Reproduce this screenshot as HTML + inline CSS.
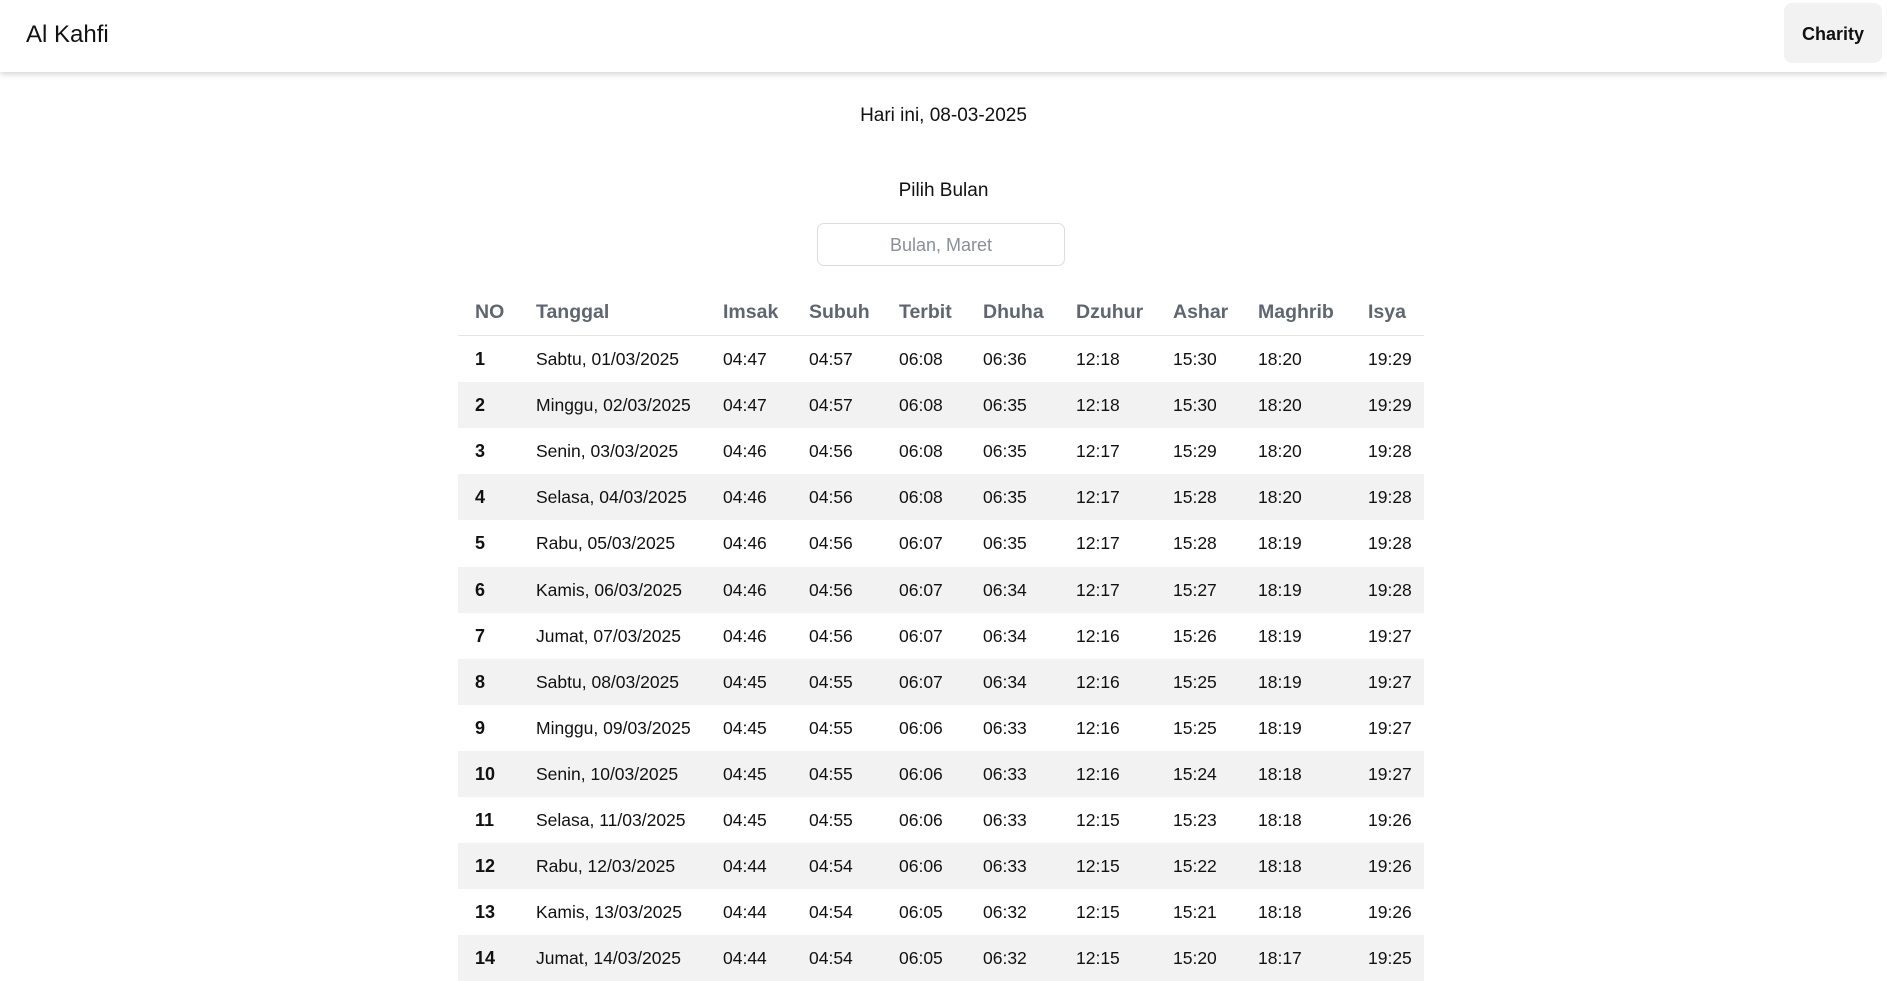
<!DOCTYPE html>
<html><head><meta charset="utf-8"><style>
body{margin:0;width:1887px;height:972px;overflow:hidden;background:#fff;font-family:"Liberation Sans",sans-serif;color:#111;position:relative}
.hdr{position:absolute;left:0;top:0;width:1887px;height:72px;background:#fff;box-shadow:0 2px 6px rgba(0,0,0,.18)}
.brand{position:absolute;left:26px;top:21px;font-size:24px;color:#111}
.btn{position:absolute;left:1784px;top:3px;width:98px;height:60px;background:#f2f2f2;border-radius:8px;font-size:18px;font-weight:bold;text-align:center;line-height:62px;color:#111}
.c{position:absolute;left:0;width:1887px;text-align:center;font-size:19px}
.inp{position:absolute;left:817px;top:223px;width:246px;height:41px;border:1px solid #ddd;border-radius:7px;text-align:center;line-height:43px;font-size:18px;color:#8a8f99}
.row{position:absolute;left:458px;width:966px;height:46px}
.cell{position:absolute;top:0;line-height:46px;font-size:17.5px;white-space:nowrap}
.th{font-weight:bold;color:#5f6670;font-size:19.5px}
</style></head><body>
<div class="hdr">
<div class="brand">Al Kahfi</div>
<div class="btn">Charity</div>
</div>
<div class="c" style="top:105px">Hari ini, 08-03-2025</div>
<div class="c" style="top:180px">Pilih Bulan</div>
<div class="inp">Bulan, Maret</div>
<div id="tbl"></div>
<script>
const cols=[17,78,265,351,441,525,618,715,800,910];
const heads=["NO","Tanggal","Imsak","Subuh","Terbit","Dhuha","Dzuhur","Ashar","Maghrib","Isya"];
const dates=["Sabtu, 01/03/2025","Minggu, 02/03/2025","Senin, 03/03/2025","Selasa, 04/03/2025","Rabu, 05/03/2025","Kamis, 06/03/2025","Jumat, 07/03/2025","Sabtu, 08/03/2025","Minggu, 09/03/2025","Senin, 10/03/2025","Selasa, 11/03/2025","Rabu, 12/03/2025","Kamis, 13/03/2025","Jumat, 14/03/2025"];
const imsak=["04:47","04:47","04:46","04:46","04:46","04:46","04:46","04:45","04:45","04:45","04:45","04:44","04:44","04:44"];
const subuh=["04:57","04:57","04:56","04:56","04:56","04:56","04:56","04:55","04:55","04:55","04:55","04:54","04:54","04:54"];
const terbit=["06:08","06:08","06:08","06:08","06:07","06:07","06:07","06:07","06:06","06:06","06:06","06:06","06:05","06:05"];
const dhuha=["06:36","06:35","06:35","06:35","06:35","06:34","06:34","06:34","06:33","06:33","06:33","06:33","06:32","06:32"];
const dzuhur=["12:18","12:18","12:17","12:17","12:17","12:17","12:16","12:16","12:16","12:16","12:15","12:15","12:15","12:15"];
const ashar=["15:30","15:30","15:29","15:28","15:28","15:27","15:26","15:25","15:25","15:24","15:23","15:22","15:21","15:20"];
const maghrib=["18:20","18:20","18:20","18:20","18:19","18:19","18:19","18:19","18:19","18:18","18:18","18:18","18:18","18:17"];
const isya=["19:29","19:29","19:28","19:28","19:28","19:28","19:27","19:27","19:27","19:27","19:26","19:26","19:26","19:25"];
const tbl=document.getElementById('tbl');
const hr=document.createElement('div');
hr.className='row';hr.style.top='289px';hr.style.height='46px';hr.style.borderBottom='1px solid #e5e5e5';


heads.forEach((h,i)=>{const d=document.createElement('div');d.className='cell th';d.style.left=cols[i]+'px';d.textContent=h;


hr.appendChild(d);});
tbl.appendChild(hr);
dates.forEach((dt,r)=>{
const row=document.createElement('div');row.className='row';row.style.top=(336+r*46.1)+'px';
if(r%2==1)row.style.background='#f2f2f2';


const vals=[String(r+1),dt,imsak[r],subuh[r],terbit[r],dhuha[r],dzuhur[r],ashar[r],maghrib[r],isya[r]];
vals.forEach((v,i)=>{const d=document.createElement('div');d.className='cell';d.style.left=cols[i]+'px';d.textContent=v;if(i==0){d.style.fontWeight='bold';d.style.fontSize='18px';}


row.appendChild(d);});
tbl.appendChild(row);});
</script>
</body></html>
